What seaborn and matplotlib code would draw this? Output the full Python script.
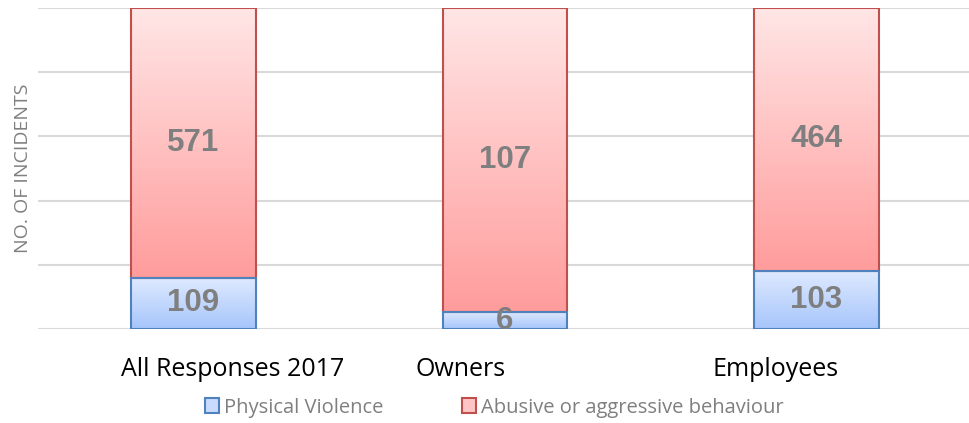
import numpy as np
import pandas as pd
import matplotlib.pyplot as plt
from matplotlib.colors import LinearSegmentedColormap
from matplotlib.patches import Patch
import seaborn as sns

groups = ['All Responses 2017', 'Owners', 'Employees']
physical = [109, 6, 103]
abusive = [571, 107, 464]
series_names = ['Physical Violence', 'Abusive or aggressive behaviour']

sns.set_style('white')
plt.rcParams['font.family'] = ['Open Sans', 'DejaVu Sans']

phys = np.array(physical)
abus = np.array(abusive)
totals = phys + abus
df = pd.DataFrame({'group': groups,
                   'physical': 100 * phys / totals,
                   'total': 100.0 * np.ones(len(groups))})

fig, ax = plt.subplots(figsize=(9.69, 4.23), dpi=100)
fig.subplots_adjust(left=0.039, right=1.0, top=0.981, bottom=0.222)

# full bar = abusive (red), lower part = physical (blue)
sns.barplot(data=df, x='group', y='total', color='#ff9e9e', width=0.4, ax=ax)
sns.barplot(data=df, x='group', y='physical', color='#a9c8ff', width=0.4, ax=ax)

red_cmap = LinearSegmentedColormap.from_list('r', ['#ff9c9c', '#ffe6e6'])
blue_cmap = LinearSegmentedColormap.from_list('b', ['#a6c5fb', '#dfeaff'])
grad = np.linspace(0, 1, 256).reshape(-1, 1)

n = len(groups)
for i, p in enumerate(ax.patches):
    red = i < n
    x0, w = p.get_x(), p.get_width()
    y0, h = p.get_y(), p.get_height()
    if red:
        # red segment starts where blue ends
        y0 = df['physical'].iloc[i]
        h = 100 - y0
        p.set_y(y0)
        p.set_height(h)
    ax.imshow(grad, extent=[x0, x0 + w, y0, y0 + h], aspect='auto', origin='lower',
              cmap=red_cmap if red else blue_cmap, zorder=2)
    p.set_facecolor('none')
    p.set_edgecolor('#c0504d' if red else '#4f81bd')
    p.set_linewidth(1.5)
    p.set_zorder(3)

# value labels
for i in range(n):
    ax.text(i, df['physical'].iloc[i] / 2, str(physical[i]), ha='center', va='center',
            fontsize=22.5, fontweight='bold', color='#7f7f7f', family=['Liberation Sans'], zorder=4)
    ax.text(i, (100 + df['physical'].iloc[i]) / 2, str(abusive[i]), ha='center', va='center',
            fontsize=22.5, fontweight='bold', color='#7f7f7f', family=['Liberation Sans'], zorder=4)

ax.set_xlim(-0.5, 2.49)
ax.set_ylim(0, 100)
ax.set_yticks(np.arange(0, 101, 20))
ax.set_yticklabels([])
ax.grid(axis='y', color='#d9d9d9', linewidth=1.5)
ax.set_axisbelow(True)
sns.despine(ax=ax, left=True, bottom=True)
ax.tick_params(length=0)

# category labels (placed like the original, shifted from bar centres)
ax.set_xticks([0.127, 0.856, 1.87])
ax.set_xticklabels(groups, fontsize=18, color='black')
ax.tick_params(axis='x', pad=20)
ax.set_xlabel('')
ax.set_ylabel('NO. OF INCIDENTS', fontsize=14, color='#808080', labelpad=1)

handles = [Patch(facecolor='#c9dbff', edgecolor='#4f81bd', linewidth=1.5),
           Patch(facecolor='#ffc4c4', edgecolor='#c0504d', linewidth=1.5)]
leg = ax.legend(handles, series_names, loc='lower center', bbox_to_anchor=(0.51, -0.03),
                bbox_transform=fig.transFigure, ncol=2, frameon=False, fontsize=14.5,
                handlelength=0.7, handleheight=0.7, handletextpad=0.25, columnspacing=3.9)
for t in leg.get_texts():
    t.set_color('#7f7f7f')

fig.savefig('out.png', dpi=100)
